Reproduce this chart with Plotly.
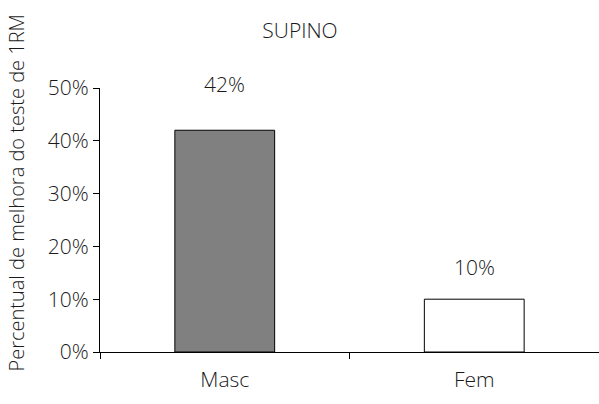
import plotly.graph_objects as go

# Supino 1RM improvement by sex
categories = ["Masc", "Fem"]
values = [42, 10]
labels = ["42%", "10%"]
bar_colors = ["#808080", "#ffffff"]
label_shift = [46, 32]

FONT = "'Open Sans', sans-serif"
TXT = "#1a1a1a"
SIZE = 21

def f(size=SIZE):
    return dict(family=FONT, size=size, color=TXT, weight=300)

fig = go.Figure(
    go.Bar(
        x=categories,
        y=values,
        width=0.4,
        marker=dict(color=bar_colors, line=dict(color="#000000", width=1)),
        showlegend=False,
    )
)

for cat, val, lab, dy in zip(categories, values, labels, label_shift):
    fig.add_annotation(
        x=cat, y=val, text=lab, showarrow=False, yshift=dy, font=f(),
    )

fig.add_annotation(
    xref="paper", yref="paper", x=-100 / 499, y=(352 - 193) / 264,
    xanchor="left", yanchor="middle", xshift=0,
    text="Percentual de melhora do teste de 1RM", textangle=-90,
    showarrow=False, font=f(20),
)

fig.update_layout(
    width=599, height=404,
    margin=dict(l=100, r=0, t=88, b=52),
    paper_bgcolor="#ffffff", plot_bgcolor="#ffffff",
    title=dict(text="SUPINO", x=300 / 599, xanchor="center", y=1 - 31 / 404,
               yanchor="middle", font=f()),
    font=f(),
    xaxis=dict(
        showline=True, linecolor="#000000", linewidth=1.3,
        ticks="outside", tickson="boundaries", ticklen=6, tickcolor="#000000",
        showgrid=False, range=[-0.5, 1.5], fixedrange=True,
        ticklabelstandoff=9, tickfont=f(),
    ),
    yaxis=dict(
        range=[0, 50], dtick=10, ticksuffix="%",
        showline=True, linecolor="#000000", linewidth=1.3,
        ticks="outside", ticklen=6, tickcolor="#000000",
        showgrid=False, zeroline=False,
        tickfont=f(),
    ),
)

fig.write_html("out.html")
